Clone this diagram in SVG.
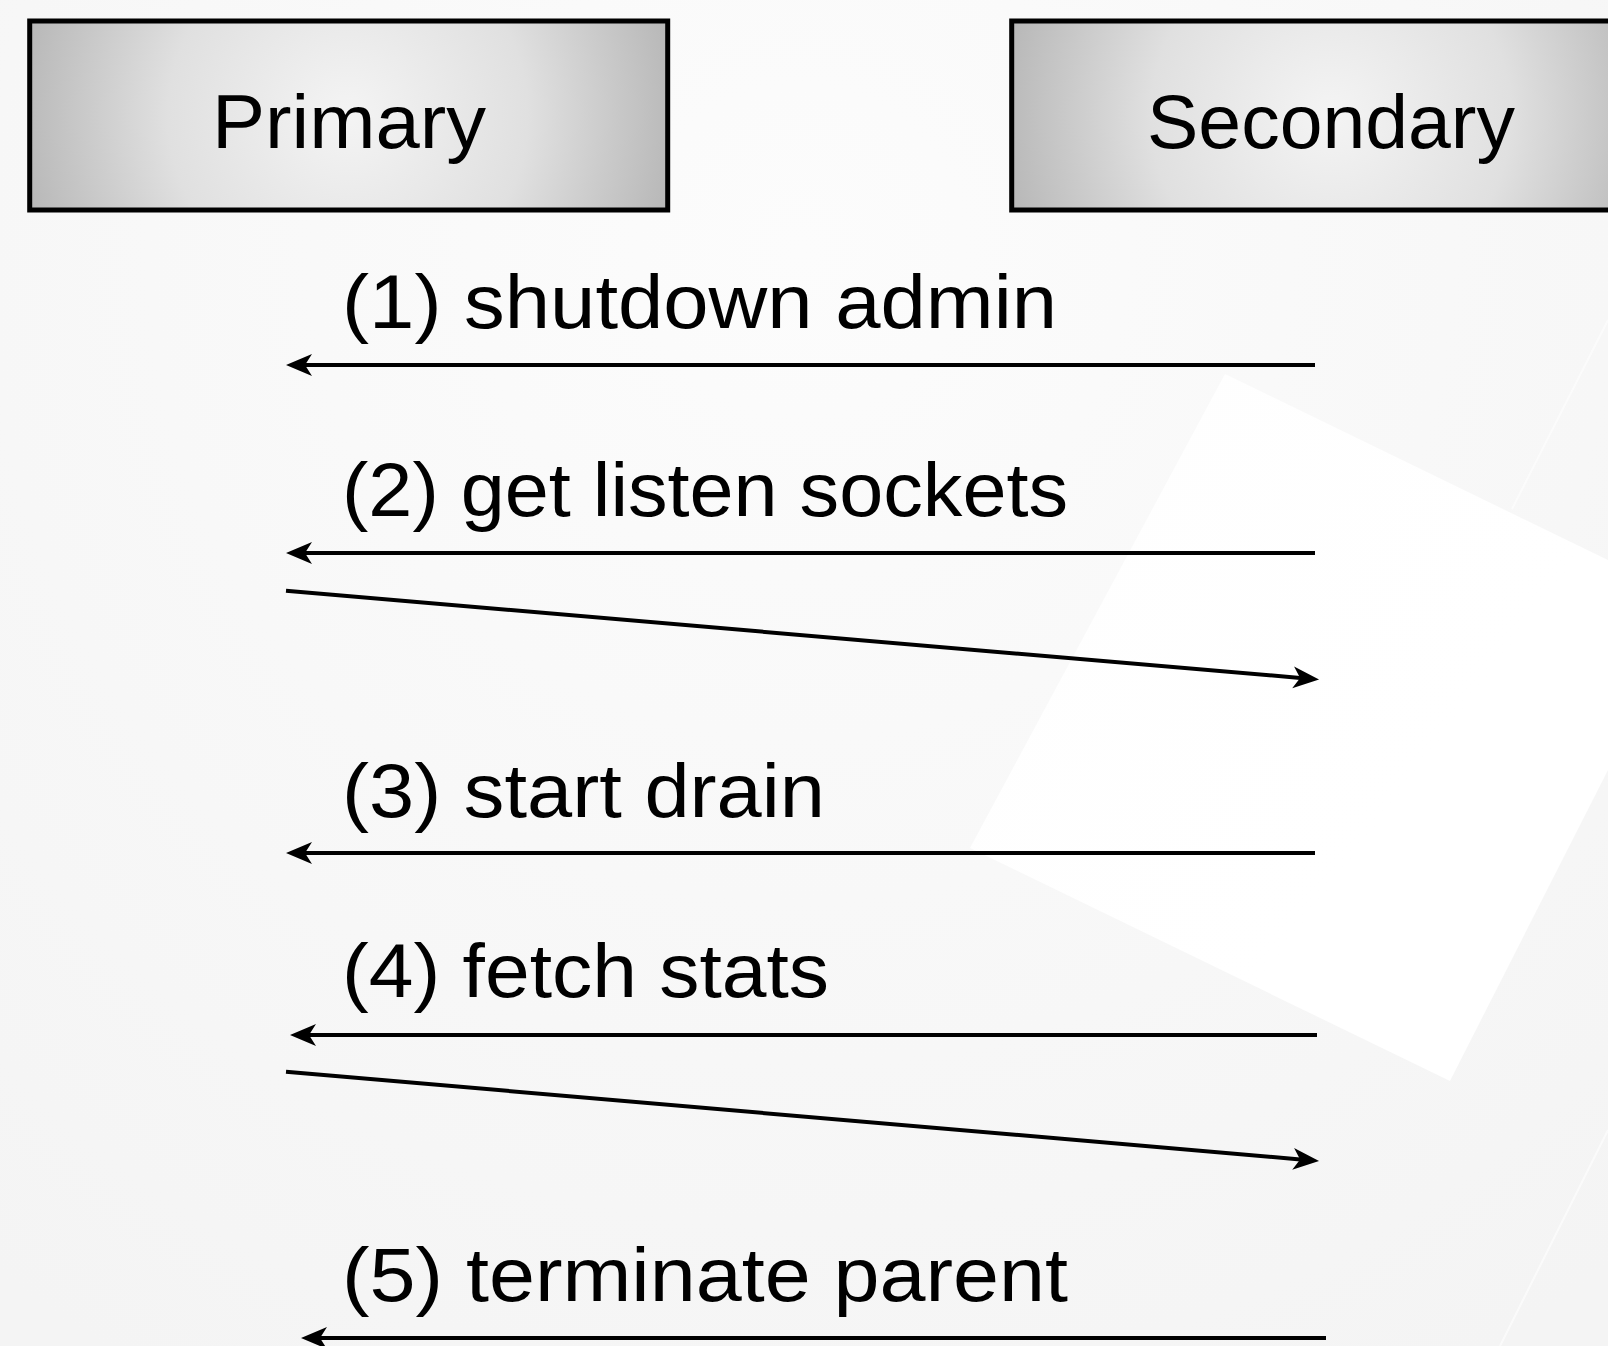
<svg xmlns="http://www.w3.org/2000/svg" width="1608" height="1346" viewBox="0 0 1608 1346">
  <style>
    .lbl { font-family: "Liberation Sans", Arial, sans-serif; font-size: 76px; fill: #000; }
    .box { stroke: #000; stroke-width: 5; }
    .msg { stroke: #000; stroke-width: 4; fill: none; }
  </style>
  <defs>
    <radialGradient id="bg" gradientUnits="userSpaceOnUse" cx="800" cy="250" r="1300">
      <stop offset="0" stop-color="#fcfcfc"/>
      <stop offset="1" stop-color="#f4f4f4"/>
    </radialGradient>
    <linearGradient id="poly" gradientUnits="userSpaceOnUse" x1="1000" y1="500" x2="1400" y2="800">
      <stop offset="0" stop-color="#fefefe"/>
      <stop offset="1" stop-color="#ffffff"/>
    </linearGradient>
    <radialGradient id="g1" gradientUnits="userSpaceOnUse" cx="348" cy="115" r="360">
      <stop offset="0" stop-color="#f4f4f4"/>
      <stop offset="0.5" stop-color="#e0e0e0"/>
      <stop offset="1" stop-color="#b0b0b0"/>
    </radialGradient>
    <radialGradient id="g2" gradientUnits="userSpaceOnUse" cx="1331" cy="115" r="360">
      <stop offset="0" stop-color="#f4f4f4"/>
      <stop offset="0.5" stop-color="#e0e0e0"/>
      <stop offset="1" stop-color="#b0b0b0"/>
    </radialGradient>
    <marker id="ah" markerUnits="userSpaceOnUse" markerWidth="32" markerHeight="26" viewBox="-28 -13 31 26" refX="-15" refY="0" orient="auto">
      <path d="M1,0 L-25,-11 L-18,0 L-25,11 Z" fill="#000"/>
    </marker>
  </defs>

  <g id="background">
    <rect x="0" y="0" width="1608" height="1346" fill="url(#bg)"/>
    <polygon points="1225,374 1608,560 1608,770 1450,1081 970,848" fill="url(#poly)"/>
    <line x1="1608" y1="320" x2="1512" y2="509" stroke="#ffffff" stroke-width="2" opacity="0.6"/>
    <line x1="1608" y1="1130" x2="1500" y2="1346" stroke="#ffffff" stroke-width="2" opacity="0.6"/>
  </g>

  <g id="node-primary">
    <rect class="box" x="29.7" y="21" width="638" height="189" fill="url(#g1)"/>
    <text class="lbl" x="349" y="148" text-anchor="middle" textLength="274" lengthAdjust="spacingAndGlyphs">Primary</text>
  </g>

  <g id="node-secondary">
    <rect class="box" x="1011.7" y="21" width="638" height="189" fill="url(#g2)"/>
    <text class="lbl" x="1331" y="148" text-anchor="middle" textLength="368" lengthAdjust="spacingAndGlyphs">Secondary</text>
  </g>

  <g id="connectors">
    <line class="msg" x1="1315" y1="365" x2="302" y2="365" marker-end="url(#ah)"/>
    <line class="msg" x1="1315" y1="553" x2="302" y2="553" marker-end="url(#ah)"/>
    <line class="msg" x1="286" y1="590.7" x2="1303.1" y2="678.2" marker-end="url(#ah)"/>
    <line class="msg" x1="1315" y1="853" x2="302" y2="853" marker-end="url(#ah)"/>
    <line class="msg" x1="1317" y1="1035" x2="306" y2="1035" marker-end="url(#ah)"/>
    <line class="msg" x1="286" y1="1071.7" x2="1303.1" y2="1159.7" marker-end="url(#ah)"/>
    <line class="msg" x1="1326" y1="1338" x2="317" y2="1338" marker-end="url(#ah)"/>
  </g>

  <g id="labels">
    <text class="lbl" x="342" y="328" textLength="715" lengthAdjust="spacingAndGlyphs">(1) shutdown admin</text>
    <text class="lbl" x="342" y="516" textLength="726" lengthAdjust="spacingAndGlyphs">(2) get listen sockets</text>
    <text class="lbl" x="342" y="817" textLength="483" lengthAdjust="spacingAndGlyphs">(3) start drain</text>
    <text class="lbl" x="342" y="997" textLength="487" lengthAdjust="spacingAndGlyphs">(4) fetch stats</text>
    <text class="lbl" x="342" y="1301" textLength="726" lengthAdjust="spacingAndGlyphs">(5) terminate parent</text>
  </g>
</svg>
